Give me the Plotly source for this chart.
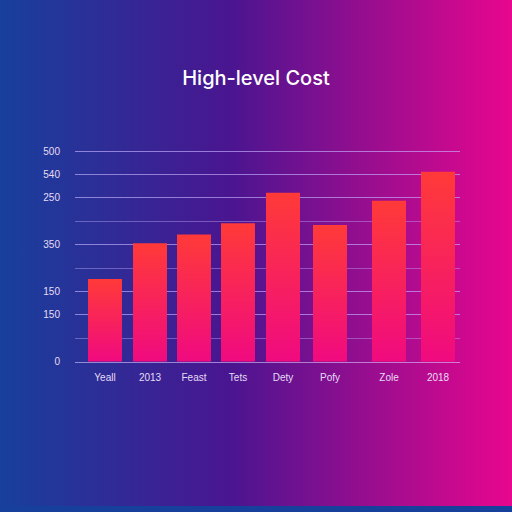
import base64
import plotly.graph_objects as go

categories = ['Yeall', '2013', 'Feast', 'Tets', 'Dety', 'Pofy', 'Zole', '2018']
positions = [105, 150, 194, 238, 283, 330, 389, 438]
values = [177, 253, 272, 296, 361, 292, 344, 406]
tick_vals = [0, 100, 150, 250, 350, 400, 450]
tick_text = ['0', '150', '150', '350', '250', '540', '500']

bar_w = 34
grid = 'rgba(200,180,255,0.4)'

svg = ('<svg xmlns="http://www.w3.org/2000/svg" width="512" height="512">'
       '<defs><linearGradient id="g" x1="0" y1="0" x2="1" y2="0">'
       '<stop offset="0" stop-color="#17409c"/><stop offset="0.45" stop-color="#4a1590"/>'
       '<stop offset="1" stop-color="#e8068e"/></linearGradient></defs>'
       '<rect width="512" height="512" fill="url(#g)"/></svg>')
bg = 'data:image/svg+xml;base64,' + base64.b64encode(svg.encode()).decode()

fig = go.Figure()
for x, v in zip(positions, values):
    x0, x1 = x - bar_w / 2, x + bar_w / 2
    fig.add_trace(go.Scatter(
        x=[x0, x0, x1, x1, x0], y=[0, v, v, 0, 0], mode='lines', line=dict(width=0),
        fill='toself',
        fillgradient=dict(type='vertical', colorscale=[[0, '#f00a80'], [1, '#ff3a38']]),
        hoverinfo='skip', showlegend=False))

fig.add_layout_image(dict(source=bg, xref='paper', yref='paper', x=0, y=1, sizex=1, sizey=1,
                          xanchor='left', yanchor='top', layer='below', sizing='stretch'))
fig.update_layout(
    width=512, height=512,
    margin=dict(l=0, r=0, t=0, b=0),
    paper_bgcolor='rgba(0,0,0,0)', plot_bgcolor='rgba(0,0,0,0)',
    title=dict(text='High-level Cost', x=0.5, y=0.847, xanchor='center', yanchor='middle',
               font=dict(family='Inter', size=20, color='white', weight=500)),
    font=dict(family='Liberation Sans', size=10, color='#e6dcf5'),
)
fig.update_xaxes(domain=[75 / 512, 460 / 512], range=[75, 460],
                 tickvals=positions, ticktext=categories, showgrid=False, zeroline=False,
                 showline=True, linecolor='rgba(220,200,255,0.6)', ticks='', ticklabelstandoff=6)
fig.update_yaxes(domain=[(512 - 366) / 512, (512 - 143.5) / 512], range=[0, 470],
                 tickvals=tick_vals, ticktext=tick_text, showgrid=True, gridcolor=grid,
                 zeroline=False,
                 minor=dict(dtick=50, showgrid=True, gridcolor=grid, gridwidth=1),
                 ticks='', ticklabelstandoff=14)
fig.write_html('out.html', config={'displayModeBar': False},
               post_script="document.body.style.margin='0';document.body.style.background='#17409c';")
